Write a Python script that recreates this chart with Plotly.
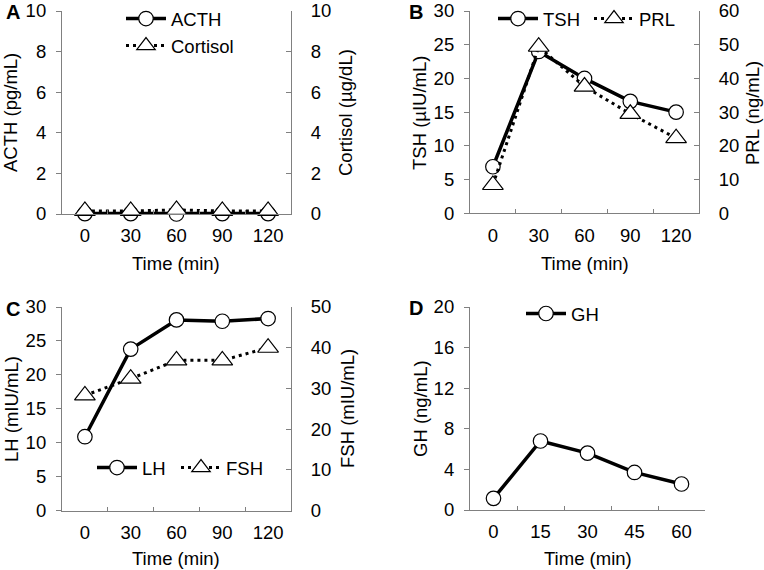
import plotly.graph_objects as go

W, H = 764, 570
FONT = "Liberation Sans, Arial, sans-serif"
AX = "#808080"
FS = 18.5

# ---------------- data ----------------
time_ab = ["0", "30", "60", "90", "120"]
time_d = ["0", "15", "30", "45", "60"]

acth = [0.02, 0.02, 0.0, 0.02, 0.02]          # pg/mL
cortisol = [0.15, 0.15, 0.2, 0.15, 0.15]      # ug/dL

tsh = [6.9, 24.0, 20.0, 16.6, 15.0]           # uIU/mL
prl = [8.4, 49.4, 37.6, 29.5, 22.3]           # ng/mL

lh = [10.9, 23.8, 28.1, 27.9, 28.3]           # mIU/mL
fsh = [28.3, 32.4, 36.9, 36.9, 40.0]          # mIU/mL

gh = [1.15, 6.8, 5.6, 3.7, 2.56]              # ng/mL

# ---------------- helpers ----------------
def px_x(p):
    return p / W

def px_y(p):
    return 1 - p / H

def solid_trace(x, y, name, xa, ya, legend):
    return go.Scatter(
        x=x, y=y, name=name, xaxis=xa, yaxis=ya, legend=legend,
        mode="lines+markers", cliponaxis=False, showlegend=True,
        line=dict(color="black", width=3.5),
        marker=dict(symbol="circle", size=14.5, color="white",
                    line=dict(color="black", width=1.2)),
    )

def dot_trace(x, y, name, xa, ya, legend):
    return go.Scatter(
        x=x, y=y, name=name, xaxis=xa, yaxis=ya, legend=legend,
        mode="lines+markers", cliponaxis=False, showlegend=True,
        line=dict(color="black", width=3, dash="3px,4px"),
        marker=dict(symbol="triangle-up", size=18, color="white",
                    line=dict(color="black", width=1.2)),
    )

fig = go.Figure()
fig.add_trace(solid_trace(time_ab, acth, "ACTH", "x", "y", "legend"))
fig.add_trace(dot_trace(time_ab, cortisol, "Cortisol", "x", "y2", "legend2"))
fig.add_trace(solid_trace(time_ab, tsh, "TSH", "x2", "y3", "legend3"))
fig.add_trace(dot_trace(time_ab, prl, "PRL", "x2", "y4", "legend4"))
fig.add_trace(solid_trace(time_ab, lh, "LH", "x3", "y5", "legend5"))
fig.add_trace(dot_trace(time_ab, fsh, "FSH", "x3", "y6", "legend6"))
fig.add_trace(solid_trace(time_d, gh, "GH", "x4", "y7", "legend7"))

# panel pixel boxes (left, right, top, bottom)
boxes = {
    "A": (62, 291, 11, 214),
    "B": (470, 699, 11, 213.3),
    "C": (62, 291, 307, 510.7),
    "D": (470, 705, 307, 510),
}

tickfont = dict(family=FONT, size=FS, color="black")

def xaxis(box, anchor):
    l, r, t, b = box
    return dict(
        domain=[px_x(l), px_x(r)], type="category", range=[-0.5, 4.5],
        anchor=anchor,
        showline=True, linecolor=AX, linewidth=1.2, showgrid=False,
        zeroline=False, ticks="inside", ticklen=4, tickcolor=AX,
        tickwidth=1.2, tickson="boundaries", tickfont=tickfont,
        ticklabelstandoff=5,
    )

def yaxis(box, rng, dtick, anchor, side="left", overlaying=None):
    l, r, t, b = box
    d = dict(
        domain=[px_y(b), px_y(t)], range=rng, dtick=dtick, tick0=0,
        showline=True, linecolor=AX, linewidth=1.2, showgrid=False,
        zeroline=False, tickcolor=AX, tickwidth=1.2, ticklen=5,
        tickfont=tickfont, anchor=anchor, side=side,
    )
    if side == "left":
        d.update(ticks="outside", ticklabelstandoff=6)
    else:
        d.update(ticks="inside", ticklabelstandoff=15, overlaying=overlaying)
    return d

fig.update_layout(
    xaxis=xaxis(boxes["A"], "y"),
    xaxis2=xaxis(boxes["B"], "y3"),
    xaxis3=xaxis(boxes["C"], "y5"),
    xaxis4=xaxis(boxes["D"], "y7"),
    yaxis=yaxis(boxes["A"], [0, 10], 2, "x"),
    yaxis2=yaxis(boxes["A"], [0, 10], 2, "x", "right", "y"),
    yaxis3=yaxis(boxes["B"], [0, 30], 5, "x2"),
    yaxis4=yaxis(boxes["B"], [0, 60], 10, "x2", "right", "y3"),
    yaxis5=yaxis(boxes["C"], [0, 30], 5, "x3"),
    yaxis6=yaxis(boxes["C"], [0, 50], 10, "x3", "right", "y5"),
    yaxis7=yaxis(boxes["D"], [0, 20], 4, "x4"),
)

legfont = dict(family=FONT, size=FS, color="black")

def leg(left, top):
    return dict(font=legfont, bgcolor="rgba(0,0,0,0)", borderwidth=0,
                xanchor="left", yanchor="top", itemwidth=40,
                orientation="h", itemclick=False, itemdoubleclick=False,
                x=px_x(left), y=min(1.0, px_y(top)))

fig.update_layout(
    showlegend=True,
    legend=leg(121, 0),
    legend2=leg(121, 27),
    legend3=leg(493, 0),
    legend4=leg(589, 0),
    legend5=leg(92, 449),
    legend6=leg(176, 449),
    legend7=leg(521, 295),
)

annotations = []
def txt(text, x, y, angle=0, size=FS, bold=False):
    annotations.append(dict(
        text=("<b>%s</b>" % text) if bold else text,
        x=px_x(x), y=px_y(y), xref="paper", yref="paper",
        xanchor="center", yanchor="middle", showarrow=False,
        textangle=angle, font=dict(family=FONT, size=size, color="black"),
    ))

# panel letters
txt("A", 13, 12, size=20, bold=True)
txt("B", 416, 12, size=20, bold=True)
txt("C", 13, 309, size=20, bold=True)
txt("D", 416, 308, size=20, bold=True)

# x titles
txt("Time (min)", 176, 263)
txt("Time (min)", 585, 263)
txt("Time (min)", 176, 558)
txt("Time (min)", 588, 558)

# y titles
txt("ACTH (pg/mL)", 11, 113, -90)
txt("Cortisol (µg/dL)", 346, 113, -90)
txt("TSH (µIU/mL)", 420, 113, -90)
txt("PRL (ng/mL)", 753, 113, -90)
txt("LH (mIU/mL)", 11, 409, -90)
txt("FSH (mIU/mL)", 347, 409, -90)
txt("GH (ng/mL)", 420, 409, -90)

fig.update_layout(
    annotations=annotations,
    width=W, height=H,
    margin=dict(l=0, r=0, t=0, b=0, autoexpand=False),
    paper_bgcolor="white", plot_bgcolor="white",
    font=dict(family=FONT, size=FS, color="black"),
)

fig.write_html(
    "out.html",
    config={"displayModeBar": False},
    post_script="document.body.style.margin='0';document.body.style.overflow='hidden';",
)
